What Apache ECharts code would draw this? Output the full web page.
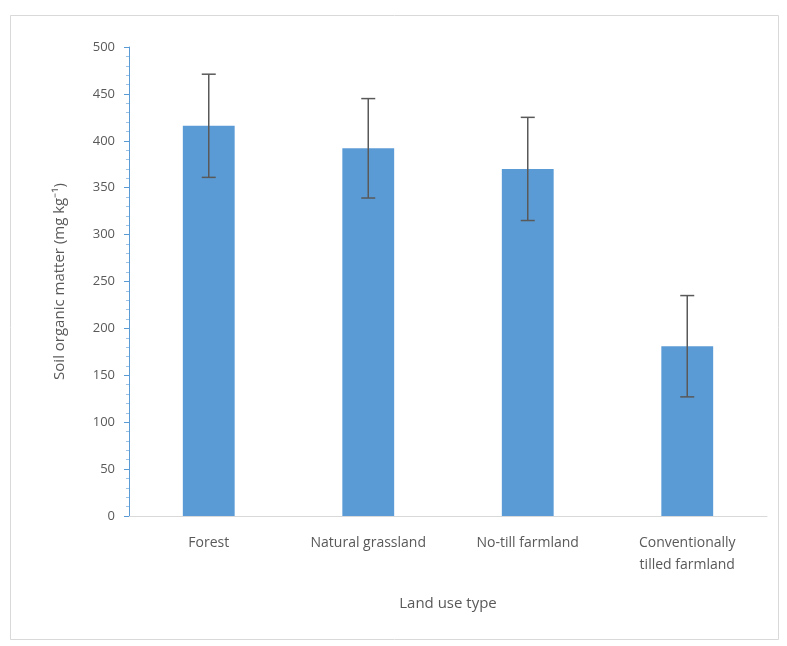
<!DOCTYPE html>
<html><head><meta charset="utf-8">
<script src="https://cdn.jsdelivr.net/npm/echarts@6/dist/echarts.min.js"></script>
<style>html,body{margin:0;padding:0;background:#fff}#c{width:787px;height:646px}</style>
</head><body><div id="c"></div>
<script>
const categories = ["Forest", "Natural grassland", "No-till farmland", "Conventionally\ntilled farmland"];
const values = [416, 392, 370, 181];
const errors = [55, 53, 55, 54];
const yTicks = [0, 50, 100, 150, 200, 250, 300, 350, 400, 450, 500];

const chart = echarts.init(document.getElementById('c'));
const errData = values.map((v, i) => [i, v - errors[i], v + errors[i]]);
chart.setOption({
  animation: false,
  backgroundColor: '#fff',
  graphic: [{type: 'rect', shape: {x: 10.5, y: 15.5, width: 768, height: 624}, style: {fill: 'none', stroke: '#d9d9d9', lineWidth: 1}}],
  grid: {left: 129, right: 20, top: 47, bottom: 130},
  xAxis: {
    type: 'category', data: categories,
    name: 'Land use type', nameLocation: 'middle', nameGap: 80,
    nameTextStyle: {color: '#595959', fontSize: 15, fontFamily: 'Open Sans'},
    axisLine: {lineStyle: {color: '#d9d9d9', width: 1}},
    axisTick: {show: false},
    axisLabel: {color: '#595959', fontSize: 14, fontFamily: 'Open Sans', margin: 16, lineHeight: 22}
  },
  yAxis: {
    type: 'value', min: 0, max: 500, interval: 50,
    name: 'Soil organic matter (mg kg⁻¹)', nameLocation: 'middle', nameGap: 62,
    nameTextStyle: {color: '#595959', fontSize: 15, fontFamily: 'Open Sans'},
    axisLine: {show: true, lineStyle: {color: '#5B9BD5', width: 1}},
    axisTick: {show: true, inside: false, length: 5, lineStyle: {color: '#5B9BD5'}},
    minorTick: {show: true, splitNumber: 5, length: 3, lineStyle: {color: '#9DC3E6'}},
    splitLine: {show: false},
    axisLabel: {color: '#595959', fontSize: 13, fontFamily: 'Open Sans', margin: 14,
      formatter: v => yTicks.includes(v) ? String(v) : ''}
  },
  series: [
    {type: 'bar', data: values, barWidth: '32.5%', itemStyle: {color: '#5B9BD5'}},
    {type: 'custom', data: errData, z: 10,
      renderItem: function (params, api) {
        const x = api.value(0);
        const lo = api.coord([x, api.value(1)]);
        const hi = api.coord([x, api.value(2)]);
        const w = 7;
        const st = {stroke: '#595959', lineWidth: 1.5};
        return {type: 'group', children: [
          {type: 'line', shape: {x1: lo[0], y1: lo[1], x2: hi[0], y2: hi[1]}, style: st},
          {type: 'line', shape: {x1: lo[0] - w, y1: lo[1], x2: lo[0] + w, y2: lo[1]}, style: st},
          {type: 'line', shape: {x1: hi[0] - w, y1: hi[1], x2: hi[0] + w, y2: hi[1]}, style: st}
        ]};
      }
    }
  ]
});
</script></body></html>
